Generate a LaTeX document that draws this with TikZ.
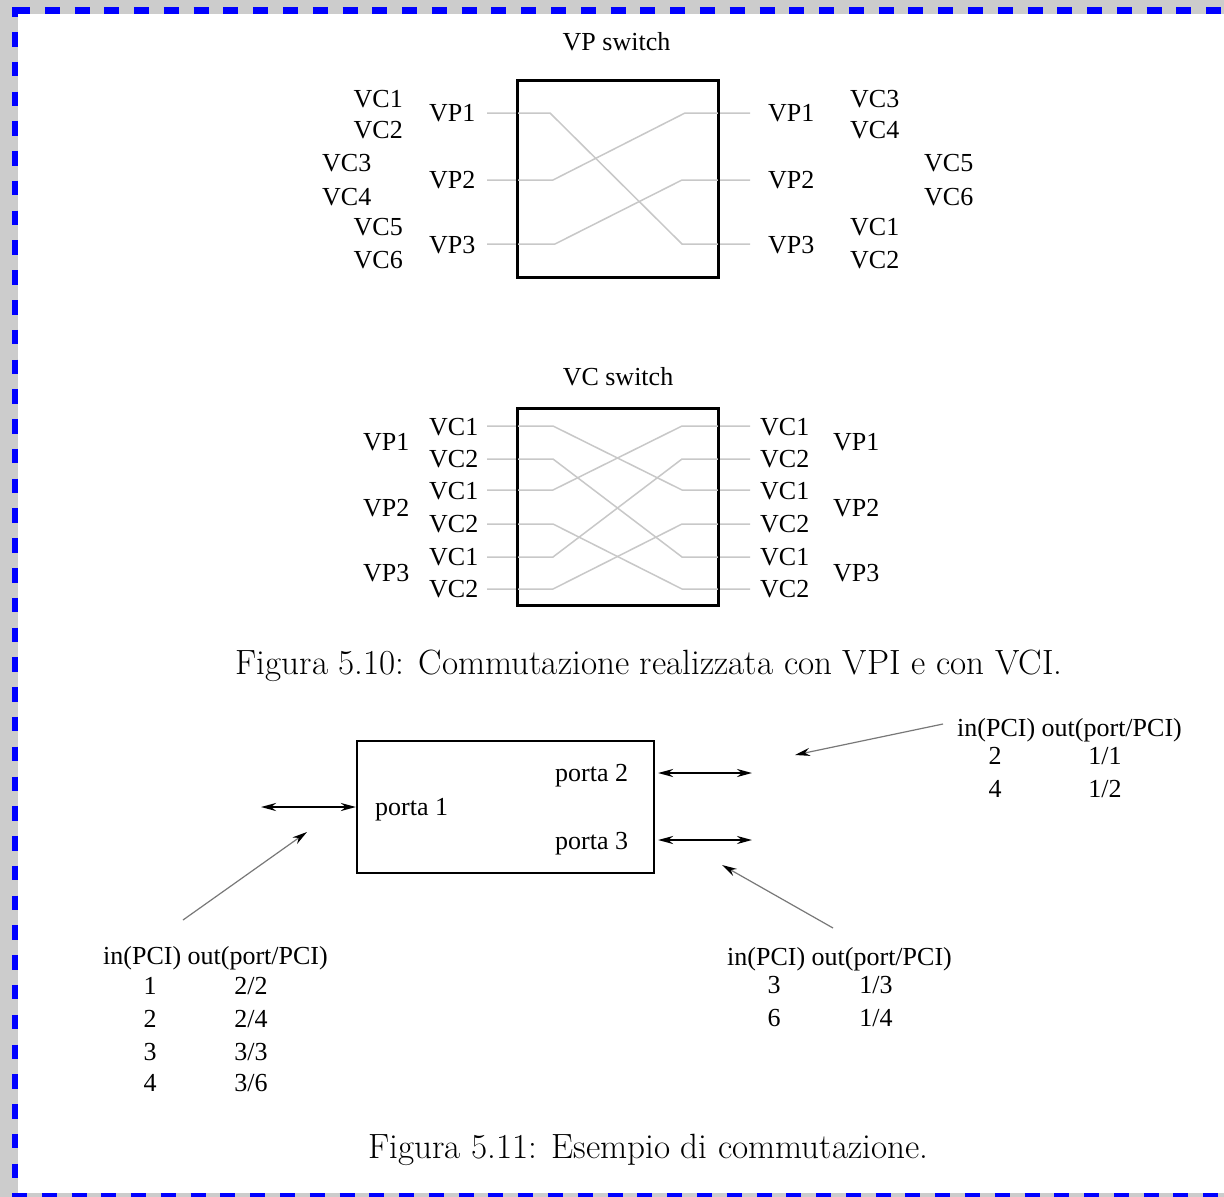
\documentclass[tikz,border=0pt]{standalone}
\usepackage{fontspec}
\usetikzlibrary{arrows.meta}
\newfontfamily\timesf{Liberation Serif}
\definecolor{bggray}{RGB}{204,204,204}
\definecolor{wire}{RGB}{200,200,200}
\definecolor{ptr}{RGB}{120,120,120}
\begin{document}
\begin{tikzpicture}[x=1pt,y=-1pt,
  lbl/.style={inner sep=0pt, font=\timesf\fontsize{26}{30}\selectfont},
  capt/.style={inner sep=0pt, font=\fontsize{35.1}{42}\selectfont},
  swbox/.style={draw=black, line width=2.2pt, inner sep=0pt},
  wireline/.style={draw=wire, line width=1.5pt},
  dbl/.style={line width=2.2pt, {Stealth[length=15pt,width=8pt]}-{Stealth[length=15pt,width=8pt]}},
  ptrline/.style={draw=ptr, line width=1.2pt, -{Stealth[length=15pt,width=8pt,color=black]}},
  bordline/.style={draw=blue, line width=7pt}
]
\useasboundingbox (0,0) rectangle (1224,1197);
\clip (0,0) rectangle (1224,1197);
\fill[bggray] (0,0) rectangle (1224,1197);
\fill[white] (18,14) rectangle (1224,1193);
% border
\draw[bordline, dash pattern=on 15pt off 14.78pt] (15,10.5) -- (1224,10.5);
\draw[bordline, line width=6.5pt, dash pattern=on 14.5pt off 15.28pt] (15,32) -- (15,1197);
\draw[bordline, dash pattern=on 15pt off 14.78pt] (12,1196.5) -- (1224,1196.5);
\fill[blue] (11.75,7) rectangle (18.25,17);

% ===== VP switch =====
\node[lbl, anchor=base] (vptitle) at (616.5,50) {VP switch};
\node[swbox, minimum width=200pt, minimum height=196pt] (vpbox) at (618,179) {};
\foreach \n/\y in {1/113,2/180,3/244}{
  \coordinate (vpL\n) at (487,\y);
  \coordinate (vpR\n) at (750,\y);
}
\draw[wireline] (vpL1) -- (550,113) -- (682,244) -- (vpR3);
\draw[wireline] (vpL2) -- (553,180) -- (685,113) -- (vpR1);
\draw[wireline] (vpL3) -- (555,244) -- (682,180) -- (vpR2);
\draw[swbox] (vpbox.north west) rectangle (vpbox.south east);
% labels left
\node[lbl, anchor=base west] (lvp1) at (429,121.5) {VP1};
\node[lbl, anchor=base west] (lvp2) at (429,188) {VP2};
\node[lbl, anchor=base west] (lvp3) at (429,253) {VP3};
\node[lbl, anchor=base east] (lvc1) at (403,107) {VC1};
\node[lbl, anchor=base east] (lvc2) at (403,138) {VC2};
\node[lbl, anchor=base west] (lvc3) at (322,171.5) {VC3};
\node[lbl, anchor=base west] (lvc4) at (322,205) {VC4};
\node[lbl, anchor=base east] (lvc5) at (403,235) {VC5};
\node[lbl, anchor=base east] (lvc6) at (403,268) {VC6};
% labels right
\node[lbl, anchor=base west] (rvp1) at (768,121.5) {VP1};
\node[lbl, anchor=base west] (rvp2) at (768,188) {VP2};
\node[lbl, anchor=base west] (rvp3) at (768,253) {VP3};
\node[lbl, anchor=base west] (rvc3) at (850,107) {VC3};
\node[lbl, anchor=base west] (rvc4) at (850,138) {VC4};
\node[lbl, anchor=base west] (rvc5) at (924,171.5) {VC5};
\node[lbl, anchor=base west] (rvc6) at (924,205) {VC6};
\node[lbl, anchor=base west] (rvc1) at (850,235) {VC1};
\node[lbl, anchor=base west] (rvc2) at (850,268) {VC2};

% ===== VC switch =====
\node[lbl, anchor=base] (vctitle) at (618,385) {VC switch};
\node[swbox, minimum width=200pt, minimum height=196pt] (vcbox) at (618,507) {};
\foreach \n/\y in {1/426,2/459,3/490,4/524,5/557,6/589}{
  \coordinate (cL\n) at (487,\y);
  \coordinate (cR\n) at (750,\y);
  \coordinate (cLb\n) at (553,\y);
  \coordinate (cRb\n) at (682,\y);
}
\foreach \a/\b in {1/3,2/5,3/1,4/6,5/2,6/4}{
  \draw[wireline] (cL\a) -- (cLb\a) -- (cRb\b) -- (cR\b);
}
\draw[swbox] (vcbox.north west) rectangle (vcbox.south east);
\foreach \n/\t/\y in {1/VC1/435,2/VC2/467,3/VC1/499,4/VC2/532,5/VC1/565,6/VC2/597}{
  \node[lbl, anchor=base west] (clv\n) at (429,\y) {\t};
  \node[lbl, anchor=base west] (crv\n) at (760,\y) {\t};
}
\foreach \n/\y in {1/450,2/516,3/581}{
  \node[lbl, anchor=base west] (clp\n) at (363,\y) {VP\n};
  \node[lbl, anchor=base west] (crp\n) at (833,\y) {VP\n};
}
\node[capt, anchor=base] (cap1) at (649,674) {Figura 5.10: Commutazione realizzata con VPI e con VCI.};

% ===== Example =====
\node[swbox, minimum width=297pt, minimum height=132pt] (sw) at (505.5,807) {};
\node[lbl, anchor=base west] (po1) at (375,815) {porta 1};
\node[lbl, anchor=base west] (po2) at (555,781) {porta 2};
\node[lbl, anchor=base west] (po3) at (555,849) {porta 3};
\coordinate (e1) at (261,807);
\coordinate (e2) at (752,773);
\coordinate (e3) at (752,840);
\draw[dbl] (e1) -- (sw.west);
\draw[dbl] ([xshift=3pt]sw.east |- e2) -- (e2);
\draw[dbl] ([xshift=3pt]sw.east |- e3) -- (e3);

% tables
\node[lbl, anchor=base west] (th1) at (103,964) {in(PCI) out(port/PCI)};
\foreach \a/\b/\y in {1/2\slash 2/994,2/2\slash 4/1027,3/3\slash 3/1060,4/3\slash 6/1091}{
  \node[lbl, anchor=base] at (150,\y) {\a};
  \node[lbl, anchor=base] at (251,\y) {\b};
}
\node[lbl, anchor=base west] (th2) at (957,736) {in(PCI) out(port/PCI)};
\node[lbl, anchor=base] (t2a1) at (995,764) {2};
\node[lbl, anchor=base] (t2b1) at (1105,764) {1/1};
\node[lbl, anchor=base] (t2a2) at (995,797) {4};
\node[lbl, anchor=base] (t2b2) at (1105,797) {1/2};
\node[lbl, anchor=base west] (th3) at (727,965) {in(PCI) out(port/PCI)};
\node[lbl, anchor=base] (t3a1) at (774,993) {3};
\node[lbl, anchor=base] (t3b1) at (876,993) {1/3};
\node[lbl, anchor=base] (t3a2) at (774,1026) {6};
\node[lbl, anchor=base] (t3b2) at (876,1026) {1/4};

% pointers
\coordinate (q1s) at (183,920);
\coordinate (q1e) at (307,832);
\coordinate (q2s) at (943,724);
\coordinate (q2e) at (795,755);
\coordinate (q3s) at (833,928);
\coordinate (q3e) at (722,865);
\draw[ptrline] (q1s) -- (q1e);
\draw[ptrline] (q2s) -- (q2e);
\draw[ptrline] (q3s) -- (q3e);

\node[capt, anchor=base] (cap2) at (648.5,1158) {Figura 5.11: Esempio di commutazione.};
\end{tikzpicture}
\end{document}
